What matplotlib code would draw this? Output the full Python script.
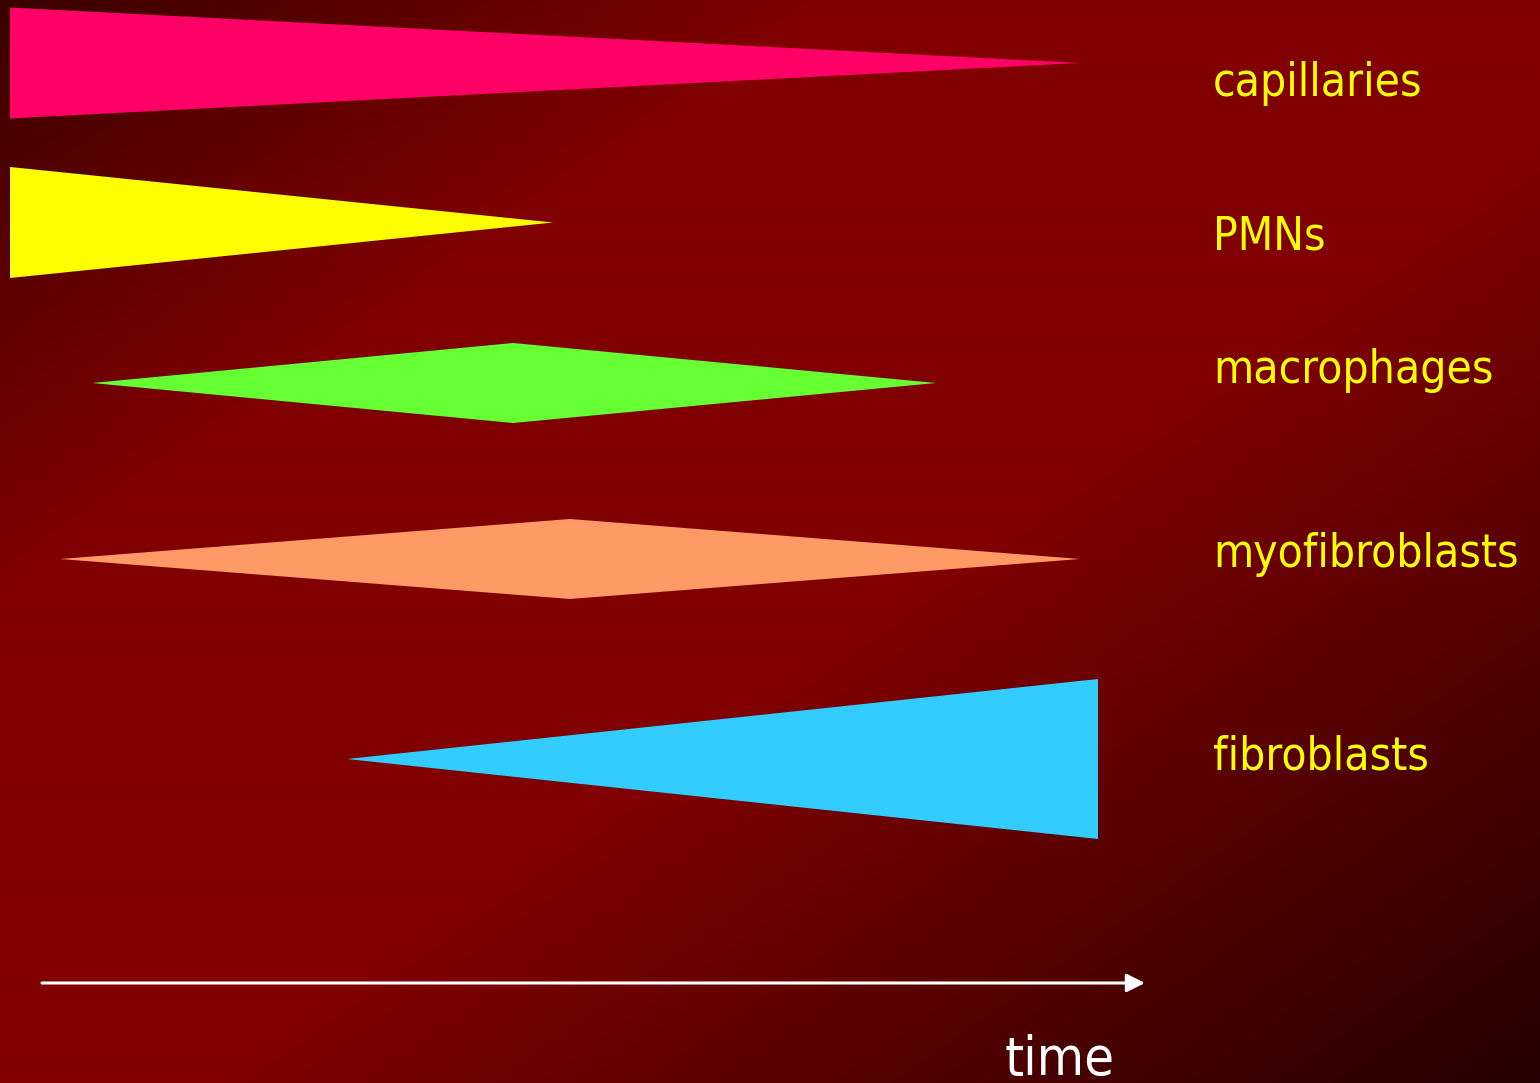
import numpy as np
import matplotlib
matplotlib.use("Agg")
import matplotlib.pyplot as plt
from matplotlib.patches import Polygon

# Cell populations over the course of wound healing
categories = ["capillaries", "PMNs", "macrophages", "myofibroblasts", "fibroblasts"]
onset = [10, 10, 92, 60, 347]          # time the population appears
peak = [10, 10, 513, 570, 1098]        # time of maximum abundance
end = [1080, 553, 936, 1080, 1098]     # time the population disappears
abundance = [55.5, 55.5, 40, 40, 80]   # half-thickness at the peak
colors = ["#FF0066", "#FFFF00", "#66FF33", "#FF9966", "#33CCFF"]

# Layout (figure pixel units)
W, H = 1540, 1083
row_centers = [63, 222.5, 383, 559, 759]
label_baselines = [96, 250, 383, 567, 770]
label_x = 1213
axis_y = 983
axis_start, axis_end = 42, 1145

fig = plt.figure(figsize=(W / 100, H / 100), dpi=100)
ax = fig.add_axes([0, 0, 1, 1])
ax.set_xlim(0, W)
ax.set_ylim(H, 0)
ax.axis("off")

# Diagonal background: dark corners top-left and bottom-right, maroon band between
u = np.linspace(0, 1, 770)
v = np.linspace(0, 1, 542)
U, V = np.meshgrid(u, v)
t = (U + V) / 2
red = np.interp(t, [0.0, 0.27, 0.57, 1.0], [58, 128, 128, 38]) / 255.0
bg = np.zeros(t.shape + (3,))
bg[..., 0] = red
ax.imshow(bg, extent=[0, W, H, 0], aspect="auto", zorder=0, interpolation="bilinear")

for cat, t0, tp, t1, a, yc, col in zip(categories, onset, peak, end, abundance,
                                        row_centers, colors):
    pts = [(t0, yc), (tp, yc - a), (t1, yc), (tp, yc + a)]
    if t0 == tp:
        pts = [(t0, yc - a), (t1, yc), (t0, yc + a)]
    elif tp == t1:
        pts = [(t0, yc), (t1, yc - a), (t1, yc + a)]
    ax.add_patch(Polygon(pts, closed=True, facecolor=col, edgecolor="none", zorder=2))

font = dict(family="DejaVu Sans", fontstretch="condensed")
for cat, yb in zip(categories, label_baselines):
    ax.text(label_x, yb, cat, color="#FFFF00", fontsize=33, va="baseline",
            ha="left", **font)

ax.annotate("", xy=(axis_end, axis_y), xytext=(axis_start, axis_y),
            arrowprops=dict(arrowstyle="-|>,head_length=1.1,head_width=0.55",
                            lw=2.2, color="white", shrinkA=0, shrinkB=0),
            zorder=3)
ax.text(1005, 1075, "time", color="white", fontsize=39, va="baseline",
        ha="left", **font)

fig.savefig("out.png", dpi=100)
